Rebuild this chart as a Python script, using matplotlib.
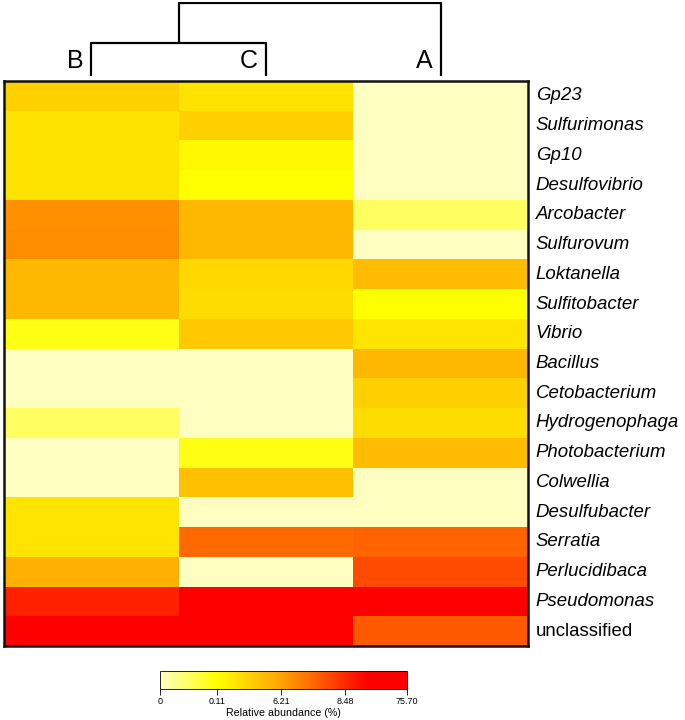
import numpy as np
import matplotlib
matplotlib.use("Agg")
import matplotlib.pyplot as plt
from matplotlib.colors import LinearSegmentedColormap, FuncNorm
from matplotlib.cm import ScalarMappable

plt.rcParams['font.family'] = ['Liberation Sans', 'DejaVu Sans']

# ---------------- data ----------------
genera = ["Gp23", "Sulfurimonas", "Gp10", "Desulfovibrio", "Arcobacter", "Sulfurovum",
          "Loktanella", "Sulfitobacter", "Vibrio", "Bacillus", "Cetobacterium",
          "Hydrogenophaga", "Photobacterium", "Colwellia", "Desulfubacter", "Serratia",
          "Perlucidibaca", "Pseudomonas", "unclassified"]
samples = ["B", "C", "A"]
abund_B = [3.24, 2.00, 2.00, 2.00, 6.59, 6.67, 4.84, 4.84, 0.10, 0.0, 0.0, 0.055, 0.0, 0.0,
           1.91, 1.91, 5.38, 14.4, 40.0]
abund_C = [2.04, 3.24, 0.64, 0.11, 4.84, 4.84, 2.71, 2.44, 3.78, 0.0, 0.0, 0.0, 0.10, 4.31,
           0.0, 7.30, 0.0, 40.0, 40.0]
abund_A = [0.0, 0.0, 0.0, 0.0, 0.055, 0.0, 4.58, 0.11, 1.91, 4.84, 3.24, 2.44, 4.58, 0.0,
           0.0, 7.41, 7.89, 40.0, 7.60]
cbar_ticks = [0, 0.11, 6.21, 8.48, 75.70]
cbar_ticklabels = ["0", "0.11", "6.21", "8.48", "75.70"]
# dendrogram merge heights (B+C, then BC+A), relative
merge_heights = [0.446, 0.986]

matrix = np.array([abund_B, abund_C, abund_A]).T

# ---------------- colormap / norm ----------------
cmap = LinearSegmentedColormap.from_list(
    "abund", [(0.0, "#FFFFC2"), (0.23, "#FFFF00"), (0.5, "#FFA000"),
              (0.84, "#FF0000"), (1.0, "#FF0000")])
tick_pos = [0.0, 0.23, 0.49, 0.75, 1.0]
def fwd(v):
    return np.interp(v, cbar_ticks, tick_pos)
def inv(u):
    return np.interp(u, tick_pos, cbar_ticks)
norm = FuncNorm((fwd, inv), vmin=cbar_ticks[0], vmax=cbar_ticks[-1])

W, H = 685, 720
fig = plt.figure(figsize=(W / 100, H / 100), dpi=100)

def fx(px):
    return px / W
def fy(py):
    return 1 - py / H

# heatmap axes
hx0, hx1, hy0, hy1 = 4, 528, 81, 646
ax = fig.add_axes([fx(hx0), fy(hy1), fx(hx1 - hx0), (hy1 - hy0) / H])
nrow, ncol = matrix.shape
ax.pcolormesh(np.arange(ncol + 1), np.arange(nrow + 1), matrix, cmap=cmap, norm=norm)
ax.set_xlim(0, ncol)
ax.set_ylim(nrow, 0)
ax.set_xticks([])
ax.set_yticks([])
for s in ax.spines.values():
    s.set_linewidth(1.8)
    s.set_color("#111111")
for i, g in enumerate(genera):
    ax.text(ncol + 0.045, i + 0.5, g, ha="left", va="center", fontsize=13.4,
            style=("normal" if g == "unclassified" else "italic"))

# dendrogram axes
dy0, dy1 = 2, 76
dax = fig.add_axes([fx(hx0), fy(dy1), fx(hx1 - hx0), (dy1 - dy0) / H])
dax.set_xlim(0, ncol)
dax.set_ylim(0, 1)
dax.axis("off")
xs = [0.5, 1.5, 2.5]
h1, h2 = merge_heights
lw = 1.6
kw = dict(color="black", lw=lw, solid_capstyle="butt")
dax.plot([xs[0], xs[0], xs[1], xs[1]], [0, h1, h1, 0], **kw)
mid = (xs[0] + xs[1]) / 2
dax.plot([mid, mid, xs[2], xs[2]], [h1, h2, h2, 0], **kw)
for x, lab in zip(xs, samples):
    dax.text(x - 0.045, 0.04, lab, ha="right", va="bottom", fontsize=18)

# colorbar
cax = fig.add_axes([fx(160), fy(689), fx(247), 18 / H])
sm = ScalarMappable(norm=norm, cmap=cmap)
cb = fig.colorbar(sm, cax=cax, orientation="horizontal")
cb.set_ticks(cbar_ticks)
cb.set_ticklabels(cbar_ticklabels)
cb.ax.tick_params(labelsize=6.5, length=4, width=0.6, pad=1.5)
cb.outline.set_linewidth(0.6)
cb.set_label("Relative abundance (%)", fontsize=7.7, labelpad=2)
cb.ax.minorticks_off()

fig.savefig("out.png", dpi=100)
